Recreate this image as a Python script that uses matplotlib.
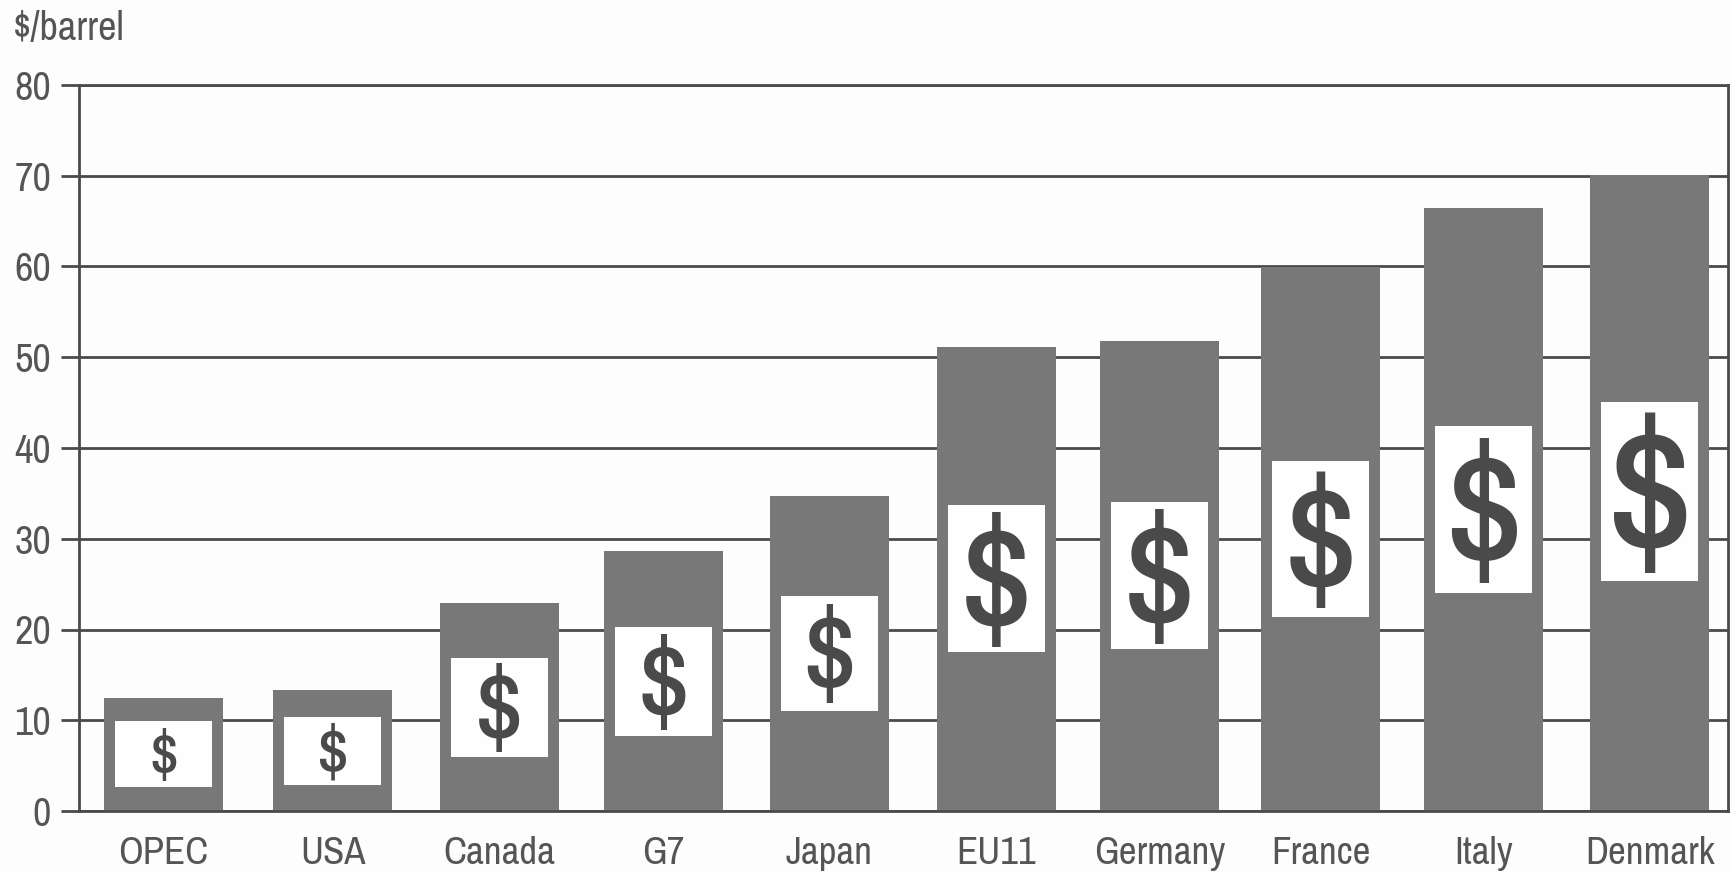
import matplotlib
matplotlib.use('Agg')
import matplotlib.pyplot as plt

plt.rcParams['font.family'] = ['Archivo Narrow', 'Liberation Sans', 'DejaVu Sans']

countries = ['OPEC', 'USA', 'Canada', 'G7', 'Japan', 'EU11', 'Germany', 'France', 'Italy', 'Denmark']
totals = [12.5, 13.3, 22.9, 28.6, 34.7, 51.1, 51.8, 59.9, 66.4, 70.1]
# white panel holding the dollar sign
panel_low = [2.6, 2.9, 6.0, 8.3, 11.0, 17.5, 17.9, 21.4, 24.0, 25.3]
panel_high = [9.9, 10.4, 16.9, 20.3, 23.7, 33.7, 34.0, 38.6, 42.4, 45.05]
yticks = [0, 10, 20, 30, 40, 50, 60, 70, 80]

# x layout in reference pixels, the bars are not evenly spaced
bar_centers = [163.6, 332.8, 499.6, 663.5, 829.5, 996.5, 1159.5, 1320.5, 1483.5, 1650]
bar_width = 119
panel_width = 97
dollar_sizes = [49, 54, 83, 89, 92, 125, 125, 127, 135, 150]

W, H = 1733, 873
BG = '#fdfdfd'
DARK = '#4a4a4a'

fig = plt.figure(figsize=(W / 100, H / 100), dpi=100, facecolor=BG)
left, right, top, bottom = 79, 1728, 85, 811
ax = fig.add_axes([left / W, 1 - bottom / H, (right - left) / W, (bottom - top) / H], facecolor=BG)

ax.set_xlim(left, right)
ax.set_ylim(0, 80)
ax.set_yticks(yticks)
ax.set_xticks(bar_centers)
ax.set_xticklabels(countries)
ax.yaxis.grid(True, color=DARK, linewidth=2.0, zorder=1)
ax.set_axisbelow(True)

ax.bar(bar_centers, totals, width=bar_width, color='#787878', zorder=2)
heights = [h - l for h, l in zip(panel_high, panel_low)]
ax.bar(bar_centers, heights, bottom=panel_low, width=panel_width, color='#fefefe', zorder=3)

for x, lo, hi, size in zip(bar_centers, panel_low, panel_high, dollar_sizes):
    # center_baseline sits a little low, worse for the big signs
    ax.text(x, (lo + hi) / 2 + size * 0.0033, '$', ha='center', va='center_baseline', fontsize=size,
            color=DARK, zorder=4)

for side in ax.spines.values():
    side.set_color(DARK)
    side.set_linewidth(2.0)

ax.tick_params(axis='y', length=13, width=2.0, color=DARK, labelcolor='#555555', labelsize=29, pad=7)
ax.tick_params(axis='x', length=0, labelcolor='#555555', labelsize=28, pad=18)

fig.text(13 / W, 1 - 28 / H, '$/barrel', fontsize=29, color='#555555', va='center', ha='left')

fig.savefig('out.png', dpi=100, facecolor=BG)
